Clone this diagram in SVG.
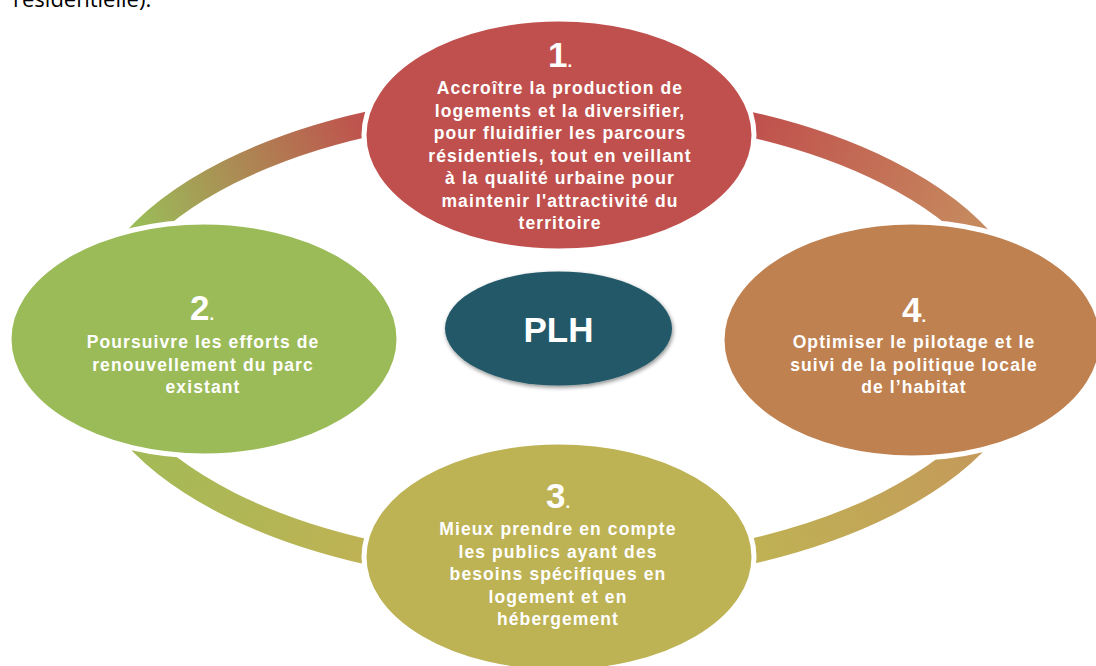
<svg xmlns="http://www.w3.org/2000/svg" width="1096" height="666" viewBox="0 0 1096 666">
<style>
.node{stroke:#fff;stroke-width:5}
.num{font-family:"Liberation Sans",Arial,sans-serif;font-weight:bold;font-size:35px;fill:#fff}
.dot{font-family:"Liberation Sans",Arial,sans-serif;font-size:17px;fill:#fff}
.t{font-family:"Liberation Sans",Arial,sans-serif;font-weight:bold;font-size:17.5px;letter-spacing:1.1px;fill:#fff;text-anchor:middle}
.ring{fill:none;stroke-width:25}
</style>
<defs>
<linearGradient id="gTL" gradientUnits="userSpaceOnUse" x1="140" y1="225" x2="365" y2="118"><stop offset="0" stop-color="#9BBB59"/><stop offset="1" stop-color="#C0504D"/></linearGradient>
<linearGradient id="gTR" gradientUnits="userSpaceOnUse" x1="755" y1="118" x2="975" y2="225"><stop offset="0" stop-color="#C0504D"/><stop offset="1" stop-color="#C68A5E"/></linearGradient>
<linearGradient id="gBL" gradientUnits="userSpaceOnUse" x1="135" y1="455" x2="365" y2="560"><stop offset="0" stop-color="#A3BA56"/><stop offset="1" stop-color="#BFB254"/></linearGradient>
<linearGradient id="gBR" gradientUnits="userSpaceOnUse" x1="752" y1="560" x2="980" y2="455"><stop offset="0" stop-color="#BFB254"/><stop offset="1" stop-color="#C49A5A"/></linearGradient>
<filter id="sh" x="-20%" y="-20%" width="140%" height="140%"><feGaussianBlur in="SourceAlpha" stdDeviation="2"/><feOffset dx="1" dy="2"/><feComponentTransfer><feFuncA type="linear" slope="0.45"/></feComponentTransfer><feMerge><feMergeNode/><feMergeNode in="SourceGraphic"/></feMerge></filter>
</defs>
<rect width="1096" height="666" fill="#fff"/>
<text x="13" y="7" font-family="'Open Sans','Liberation Sans',sans-serif" font-size="22" fill="#000">résidentielle).</text>
<g id="connectors">
<path class="ring" stroke="url(#gTL)" d="M 92.5 338 A 465.5 234.5 0 0 1 558 103.5"/>
<path class="ring" stroke="url(#gTR)" d="M 558 103.5 A 465.5 234.5 0 0 1 1023.5 338"/>
<path class="ring" stroke="url(#gBR)" d="M 1023.5 338 A 465.5 234.5 0 0 1 558 572.5"/>
<path class="ring" stroke="url(#gBL)" d="M 558 572.5 A 465.5 234.5 0 0 1 92.5 338"/>
</g>
<g id="node1">
<ellipse class="node" cx="559" cy="135" rx="195" ry="116" fill="#C0504D"/>
<text x="548" y="67" class="num">1<tspan class="dot">.</tspan></text>
<text class="t"><tspan x="560" y="94">Accroître la production de</tspan><tspan x="560" y="116.5">logements et la diversifier,</tspan><tspan x="560" y="139">pour fluidifier les parcours</tspan><tspan x="560" y="161.5">résidentiels, tout en veillant</tspan><tspan x="560" y="184">à la qualité urbaine pour</tspan><tspan x="560" y="206.5">maintenir l'attractivité du</tspan><tspan x="560" y="229">territoire</tspan></text>
</g>
<g id="node2">
<ellipse class="node" cx="204" cy="339" rx="195" ry="117" fill="#9BBB59"/>
<text x="190" y="320" class="num">2<tspan class="dot">.</tspan></text>
<text class="t"><tspan x="203" y="348">Poursuivre les efforts de</tspan><tspan x="203" y="370.5">renouvellement du parc</tspan><tspan x="203" y="393">existant</tspan></text>
</g>
<g id="node4">
<ellipse class="node" cx="912" cy="340" rx="190" ry="118" fill="#BF8150"/>
<text x="902" y="322" class="num">4<tspan class="dot">.</tspan></text>
<text class="t"><tspan x="914" y="348">Optimiser le pilotage et le</tspan><tspan x="914" y="370.5">suivi de la politique locale</tspan><tspan x="914" y="393">de l’habitat</tspan></text>
</g>
<g id="node3">
<ellipse class="node" cx="559" cy="557" rx="195" ry="115" fill="#BDB254"/>
<text x="546" y="508" class="num">3<tspan class="dot">.</tspan></text>
<text class="t"><tspan x="558" y="535">Mieux prendre en compte</tspan><tspan x="558" y="557.5">les publics ayant des</tspan><tspan x="558" y="580">besoins spécifiques en</tspan><tspan x="558" y="602.5">logement et en</tspan><tspan x="558" y="625">hébergement</tspan></text>
</g>
<g id="plh">
<ellipse cx="558.5" cy="328.5" rx="113.5" ry="57" fill="#215968" filter="url(#sh)"/>
<text x="558.5" y="342" text-anchor="middle" font-family="'Liberation Sans',Arial,sans-serif" font-weight="bold" font-size="35" fill="#fff">PLH</text>
</g>
</svg>
